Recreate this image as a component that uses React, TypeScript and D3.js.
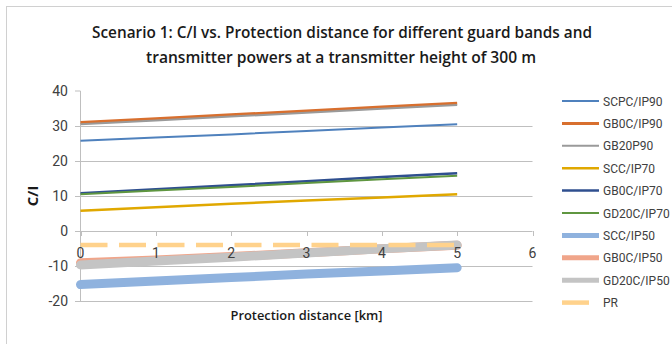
import * as d3 from 'd3';

// --- data ---
const distances = [0, 1, 2, 3, 4, 5];

const seriesNames = [
  'SCPC/IP90', 'GB0C/IP90', 'GB20P90',
  'SCC/IP70', 'GB0C/IP70', 'GD20C/IP70',
  'SCC/IP50', 'GB0C/IP50', 'GD20C/IP50', 'PR',
];

const scpcIp90 = [25.8, 26.7, 27.6, 28.6, 29.6, 30.5];
const gb0cIp90 = [31.0, 32.1, 33.2, 34.3, 35.4, 36.5];
const gb20p90 = [30.5, 31.6, 32.7, 33.8, 34.9, 36.0];
const sccIp70 = [5.8, 6.8, 7.8, 8.7, 9.6, 10.5];
const gb0cIp70 = [10.8, 11.9, 13.1, 14.2, 15.4, 16.5];
const gd20cIp70 = [10.5, 11.6, 12.6, 13.7, 14.8, 15.8];
const sccIp50 = [-15.3, -14.3, -13.3, -12.3, -11.4, -10.5];
const gb0cIp50 = [-9.1, -8.3, -7.3, -6.2, -5.1, -4.1];
const gd20cIp50 = [-9.7, -8.6, -7.5, -6.3, -5.1, -4.0];
const prLevel = [-4, -4, -4, -4, -4, -4];

const xTicks = [0, 1, 2, 3, 4, 5, 6];
const yTicks = [-20, -10, 0, 10, 20, 30, 40];

const colors = [
  '#4f81bd', '#d86f2e', '#9a9a9a',
  '#e0a800', '#2f4f8f', '#5f9640',
  '#8fb2de', '#f0a58a', '#c4c4c4', '#ffd28c',
];
const widths = [2, 3, 2, 2.5, 2.5, 2, 9, 9, 9, 4.5];
const legendWidths = [2, 3, 2, 2.5, 2.5, 2, 5, 5, 5, 4.5];

const allValues = [scpcIp90, gb0cIp90, gb20p90, sccIp70, gb0cIp70, gd20cIp70, sccIp50, gb0cIp50, gd20cIp50, prLevel];

const font = "Roboto, 'Open Sans', sans-serif";
const textColor = '#404040';

export default function App() {
  const width = 672;
  const height = 344;
  const x = d3.scaleLinear().domain([0, 6]).range([80.5, 532.5]);
  const y = d3.scaleLinear().domain([-20, 40]).range([301, 91]);

  const line = d3.line<number>()
    .x((_, i) => x(distances[i]))
    .y((d) => y(d));

  return (
    <svg width={width} height={height} style={{ position: 'absolute', left: 0, top: 0, background: '#fff' }}>
      {/* frame edges visible in the screenshot */}
      <line x1={6} x2={width} y1={6.5} y2={6.5} stroke="#d0d0d0" />
      <line x1={6.5} x2={6.5} y1={6} y2={height} stroke="#d0d0d0" />

      <text x={342} y={38} textAnchor="middle" fontFamily="'Open Sans', sans-serif" fontWeight={600} fontSize={16}
        textLength={500} lengthAdjust="spacingAndGlyphs" fill="#1a1a1a">
        Scenario 1: C/I vs. Protection distance for different guard bands and
      </text>
      <text x={341} y={63} textAnchor="middle" fontFamily="'Open Sans', sans-serif" fontWeight={600} fontSize={16}
        textLength={390} lengthAdjust="spacingAndGlyphs" fill="#1a1a1a">
        transmitter powers at a transmitter height of 300 m
      </text>

      {/* gridlines */}
      {yTicks.filter((t) => t !== 40).map((t) => (
        <line key={t} x1={75} x2={x(6)} y1={Math.round(y(t)) + 0.5} y2={Math.round(y(t)) + 0.5} stroke="#bfbfbf" strokeWidth={1} />
      ))}
      <line x1={75} x2={80.5} y1={y(40)} y2={y(40)} stroke="#bfbfbf" />
      <line x1={80.5} x2={80.5} y1={y(40)} y2={y(-20)} stroke="#bfbfbf" />

      {xTicks.map((t) => (
        <line key={t} x1={Math.round(x(t)) + 0.5} x2={Math.round(x(t)) + 0.5} y1={y(0)} y2={y(0) + 5} stroke="#bfbfbf" />
      ))}

      {/* series */}
      {allValues.map((vals, i) => (
        <path key={seriesNames[i]} d={line(vals) ?? ''} fill="none" stroke={colors[i]} strokeWidth={widths[i]}
          strokeLinecap={widths[i] > 5 ? 'round' : 'butt'}
          strokeDasharray={seriesNames[i] === 'PR' ? '27 11.5' : undefined} />
      ))}

      {/* x tick labels sit on top of the plotted lines */}
      {xTicks.map((t) => (
        <text key={t} x={x(t)} y={y(0) + 27} textAnchor="middle" fontFamily={font} fontSize={14} fill={textColor}>{t}</text>
      ))}

      {yTicks.map((t) => (
        <text key={t} x={68} y={y(t) + 5} textAnchor="end" fontFamily={font} fontSize={14} fill={textColor}>{t}</text>
      ))}

      <text transform="translate(38,196) rotate(-90)" textAnchor="middle" fontFamily="'Open Sans', sans-serif" fontWeight={700} fontSize={15} fill="#1a1a1a">C/I</text>
      <text x={306.5} y={320} textAnchor="middle" fontFamily="'Open Sans', sans-serif" fontWeight={600} fontSize={12}
        textLength={152} lengthAdjust="spacingAndGlyphs" fill="#1a1a1a">Protection distance [km]</text>

      {/* legend */}
      {seriesNames.map((name, i) => {
        const ly = 101 + i * 22.4;
        return (
          <g key={name}>
            <line x1={562} x2={name === 'PR' ? 589 : 599} y1={ly} y2={ly} stroke={colors[i]} strokeWidth={legendWidths[i]} />
            <text x={603} y={ly + 4.5} fontFamily={font} fontSize={12} fill={textColor}>{name}</text>
          </g>
        );
      })}
    </svg>
  );
}
